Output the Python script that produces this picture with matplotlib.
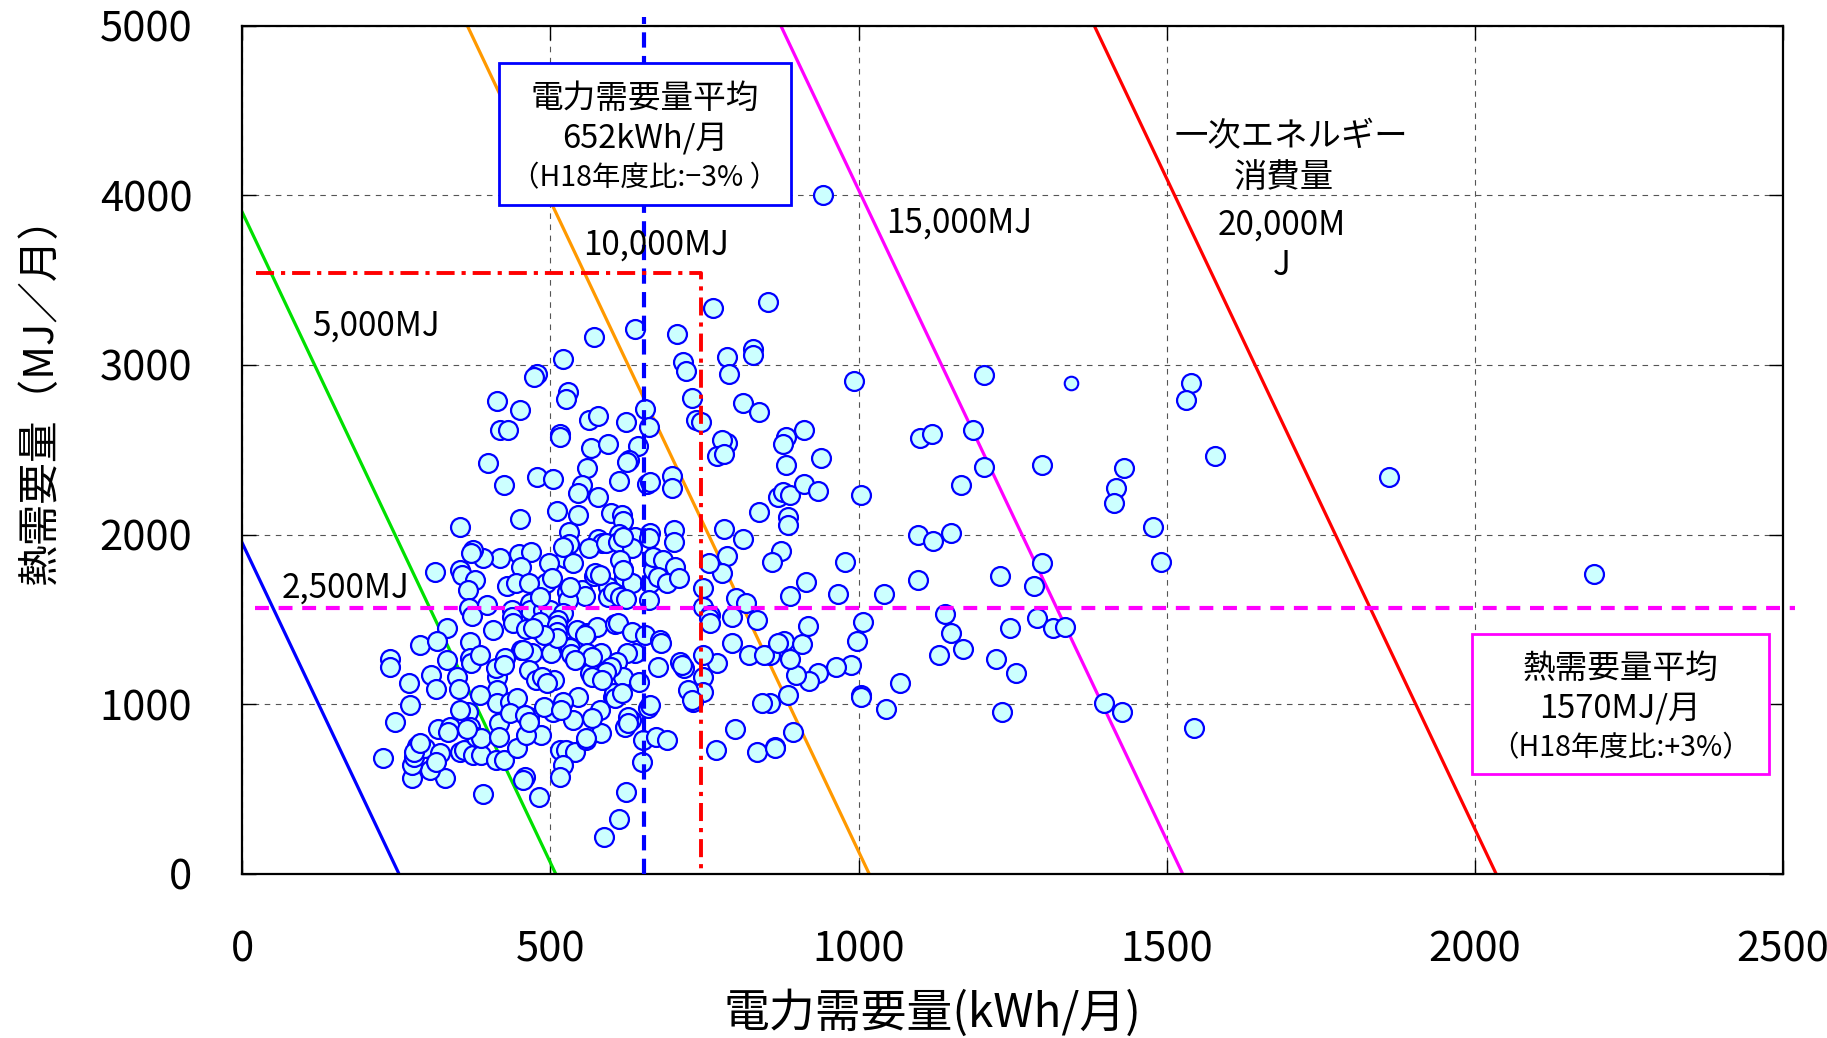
import numpy as np
import matplotlib
matplotlib.use('Agg')
import matplotlib.pyplot as plt
from matplotlib.patches import Rectangle

plt.rcParams['font.family'] = ['Noto Sans CJK JP', 'DejaVu Sans']
plt.rcParams['lines.scale_dashes'] = False

# Monthly electricity demand (kWh) and heat demand (MJ) per household
elec_kwh = [
    942, 853, 764, 571, 637, 705, 520, 478, 474, 715,
    720, 787, 790, 828, 828, 992, 1204, 1539, 1532, 1579,
    1861, 2193, 529, 526, 414, 729, 812, 451, 418, 432,
    563, 578, 622, 654, 660, 516, 515, 737, 745, 839,
    882, 877, 912, 1100, 1119, 1185, 786, 778, 771, 782,
    939, 882, 1204, 1297, 1431, 566, 594, 642, 628, 624,
    399,
    1418, 1415, 1478, 1166, 1004, 870, 878, 889, 912, 934,
    886, 886, 559, 479, 504, 552, 545, 578, 612, 656,
    661, 698, 698, 425, 838, 781, 510, 545, 530, 599,
    616, 618, 611, 638, 662, 700, 1096, 1121, 1150, 450,
    354,
    874, 859, 978, 1491, 915, 889, 966, 1042, 1096, 1230,
    1297, 1284, 812, 787, 778, 758, 748, 801, 817, 748,
    759, 794, 835, 530, 578, 583, 562, 591, 610, 660,
    633, 618, 701, 523, 536, 498, 449, 469, 418, 390,
    375, 371, 452, 354, 356, 313, 378, 429, 444, 493,
    502, 480, 527, 552, 556, 570, 594, 594, 618, 619,
    632, 613, 618, 572, 580, 602, 613, 623, 662, 667,
    666, 683, 702, 675, 689, 708, 660, 520, 529, 532,
    367, 368, 397, 467, 467, 437, 488, 499, 521, 513,
    437, 466, 483,
    1140, 1150, 1169, 1131, 1223, 1256, 1246, 1290, 1315, 1335,
    1067, 1004, 1004, 987, 963, 934, 920, 899, 889, 879,
    908, 918, 998, 1008, 886, 856, 856, 440, 407, 372,
    370, 332, 288, 316, 240, 240, 270, 272, 307, 315,
    332, 349, 351, 370, 371, 386, 481, 483, 461, 453,
    470, 501, 529, 510, 543, 559, 575, 605, 609, 632,
    654, 637, 624, 582, 597, 608, 618, 643, 602, 603,
    564, 545, 758, 759, 794, 822, 846, 770, 747, 747,
    747, 732, 717, 710, 844, 869, 678, 675, 680, 724,
    413, 411, 413, 413, 426, 425, 434, 445, 456, 466,
    476, 506, 531, 533, 486, 494, 521, 605, 616, 599,
    591, 556, 559, 568, 540, 510, 510, 489, 472, 386,
    567, 583, 713, 730,
    1398, 1427, 1545, 1233, 1045, 893, 865, 248, 229, 318,
    329, 276, 305, 275, 278, 283, 297, 278, 321, 315,
    337, 353, 359, 367, 370, 375, 388, 380, 388, 390,
    412, 424, 445, 416, 416, 434, 353, 364, 334, 289,
    459, 455, 481, 484, 461, 466, 505, 489, 515, 526,
    540, 521, 515, 558, 582, 536, 631, 621, 651, 672,
    689, 648, 622, 612, 587, 659, 662, 768, 800, 835,
    864, 626, 626, 581, 557, 518, 459, 465, 567,
]
heat_mj = [
    4004, 3372, 3333, 3166, 3212, 3180, 3034, 2946, 2931, 3015,
    2964, 3049, 2944, 3092, 3058, 2906, 2939, 2894, 2795, 2463,
    2342, 1770, 2842, 2800, 2790, 2803, 2775, 2734, 2617, 2617,
    2676, 2699, 2666, 2738, 2632, 2593, 2573, 2676, 2666, 2725,
    2573, 2534, 2617, 2567, 2593, 2617, 2538, 2558, 2463, 2475,
    2452, 2412, 2400, 2412, 2391, 2509, 2534, 2522, 2440, 2429,
    2424,
    2273, 2184, 2043, 2294, 2235, 2224, 2253, 2233, 2296, 2257,
    2106, 2057, 2391, 2342, 2328, 2292, 2243, 2224, 2318, 2298,
    2312, 2345, 2273, 2292, 2131, 2031, 2141, 2116, 2017, 2129,
    2116, 2080, 2004, 1988, 2008, 2027, 1998, 1960, 2008, 2091,
    2046,
    1901, 1841, 1841, 1841, 1723, 1638, 1650, 1650, 1733, 1756,
    1831, 1697, 1974, 1876, 1772, 1831, 1683, 1624, 1595, 1575,
    1526, 1516, 1497, 1943, 1972, 1949, 1919, 1948, 1955, 1978,
    1919, 1987, 1958, 1860, 1831, 1831, 1884, 1899, 1864, 1864,
    1909, 1890, 1811, 1791, 1762, 1782, 1733, 1697, 1713, 1713,
    1742, 1624, 1664, 1674, 1640, 1756, 1693, 1634, 1795, 1752,
    1713, 1850, 1791, 1771, 1761, 1663, 1634, 1619, 1713, 1792,
    1866, 1850, 1807, 1752, 1713, 1742, 1615, 1928, 1614, 1692,
    1674, 1566, 1585, 1594, 1555, 1555, 1555, 1555, 1535, 1496,
    1516, 1712, 1634,
    1532, 1422, 1326, 1290, 1267, 1182, 1448, 1507, 1448, 1457,
    1123, 1055, 1041, 1232, 1218, 1182, 1139, 1173, 1267, 1375,
    1353, 1461, 1375, 1483, 1055, 1005, 1290, 1477, 1438, 1520,
    1369, 1448, 1352, 1370, 1268, 1220, 1125, 993, 1170, 1088,
    1261, 1160, 1089, 1271, 1241, 1290, 1438, 1487, 1444, 1320,
    1300, 1300, 1340, 1467, 1438, 1418, 1457, 1473, 1477, 1428,
    1408, 1300, 1300, 1300, 1212, 1251, 1163, 1133, 1045, 1065,
    1182, 1045, 1506, 1477, 1363, 1290, 1290, 1241, 1290, 1159,
    1074, 1015, 1216, 1251, 1006, 1359, 1379, 1218, 1359, 1084,
    1162, 1211, 1083, 1005, 1270, 1231, 1015, 1035, 1319, 1201,
    1142, 1142, 1329, 1296, 1162, 1123, 1015, 1034, 1064, 1221,
    1192, 1408, 1300, 1280, 1260, 1427, 1388, 1408, 1447, 1054,
    1162, 1143, 1231, 1025,
    1006, 956, 862, 956, 970, 839, 750, 897, 681, 852,
    563, 563, 612, 642, 691, 756, 740, 720, 710, 661,
    868, 720, 730, 956, 868, 701, 701, 809, 799, 469,
    671, 671, 740, 887, 809, 946, 966, 857, 838, 769,
    573, 553, 455, 818, 818, 926, 956, 985, 730, 730,
    720, 641, 573, 789, 828, 907, 907, 868, 789, 809,
    789, 661, 480, 321, 215, 976, 995, 730, 852, 716,
    740, 926, 887, 966, 799, 966, 936, 897, 916,
]
# one household plotted with a smaller marker
small_kwh = [1344]
small_mj = [2892]

# iso-lines of primary energy consumption
energy_levels = [2500, 5000, 10000, 15000, 20000]
energy_colors = ['#0000FF', '#00E000', '#FF9900', '#FF00FF', '#FF0000']
energy_labels = ['2,500MJ', '5,000MJ', '10,000MJ', '15,000MJ', '20,000M\nJ']
elec_factor = 9.83   # MJ per kWh
boiler_eff = 0.78

mean_kwh = 652
mean_mj = 1570
ref_kwh = 745
ref_mj = 3540

fig = plt.figure(figsize=(18.27, 10.38), dpi=100)
ax = fig.add_axes([0.1326, 0.1581, 0.8433, 0.8172])
ax.set_xlim(0, 2500)
ax.set_ylim(0, 5000)

ax.set_xticks([0, 500, 1000, 1500, 2000, 2500])
ax.set_yticks([0, 1000, 2000, 3000, 4000, 5000])
ax.tick_params(direction='in', length=10, width=1, labelsize=30,
               top=True, right=True, pad=40)
ax.tick_params(axis='y', pad=36)
for s in ax.spines.values():
    s.set_linewidth(1.6)
ax.grid(True, color='#555555', linewidth=0.8, dashes=(4, 4))
ax.set_axisbelow(True)

# primary energy iso-lines: elec_factor*kWh + MJ/boiler_eff = E
xs = np.array([0, 2500])
for e, c in zip(energy_levels, energy_colors):
    ax.plot(xs, boiler_eff * (e - elec_factor * xs), color=c, lw=2.3, zorder=2)

ax.scatter(elec_kwh, heat_mj, s=185, facecolor='#CCFFFF', edgecolor='#0000FF',
           linewidth=1.6, zorder=3)
ax.scatter(small_kwh, small_mj, s=95, facecolor='#CCFFFF', edgecolor='#0000FF',
           linewidth=1.5, zorder=3)

# averages and reference frame
ax.axvline(mean_kwh, color='#0000FF', lw=3, dashes=(11, 6), zorder=4,
           ymin=0, ymax=1.01, clip_on=False)
ax.plot([20, 2520], [mean_mj, mean_mj], color='#FF00FF', lw=3,
        dashes=(10, 7), zorder=4, clip_on=False)
ax.plot([23, ref_kwh, ref_kwh], [ref_mj, ref_mj, 0], color='#FF0000', lw=2.8,
        dashes=(13, 5, 3, 5), zorder=4)

# energy level labels
txt = dict(fontsize=24, ha='center', va='center', zorder=6)
ax.text(168, 1683, energy_labels[0], **txt)
ax.text(217, 3228, energy_labels[1], **txt)
ax.text(672, 3709, energy_labels[2], **txt)
ax.text(1163, 3839, energy_labels[3], **txt)
ax.text(1702, 4347, '一次エネルギー', **txt)
ax.text(1690, 4107, '消費量', **txt)
ax.text(1687, 3705, energy_labels[4], linespacing=1.2, **txt)

# average boxes
ax.add_patch(Rectangle((416, 3942), 475, 838, facecolor='white',
                       edgecolor='#0000FF', lw=2, zorder=5))
ax.text(653, 4567, '電力需要量平均', fontsize=23.5, ha='center', va='center', zorder=6)
ax.text(653, 4334, f'{mean_kwh}kWh/月', fontsize=23.5, ha='center', va='center', zorder=6)
ax.text(653, 4100, '（H18年度比:−3% ）', fontsize=20.5, ha='center', va='center', zorder=6)

ax.add_patch(Rectangle((1995, 591), 482, 824, facecolor='white',
                       edgecolor='#FF00FF', lw=2, zorder=5))
ax.text(2236, 1209, '熱需要量平均', fontsize=23.5, ha='center', va='center', zorder=6)
ax.text(2236, 975, f'{mean_mj}MJ/月', fontsize=23.5, ha='center', va='center', zorder=6)
ax.text(2236, 742, '（H18年度比:+3%）', fontsize=20.5, ha='center', va='center', zorder=6)

fig.text(932 / 1827, 1 - 1014 / 1038, '電力需要量(kWh/月)', fontsize=33,
         ha='center', va='center')
fig.text(41 / 1827, 1 - 390 / 1038, '熱需要量（MJ／月）', fontsize=30,
         ha='center', va='center', rotation=90)

fig.savefig('out.png', dpi=100)
